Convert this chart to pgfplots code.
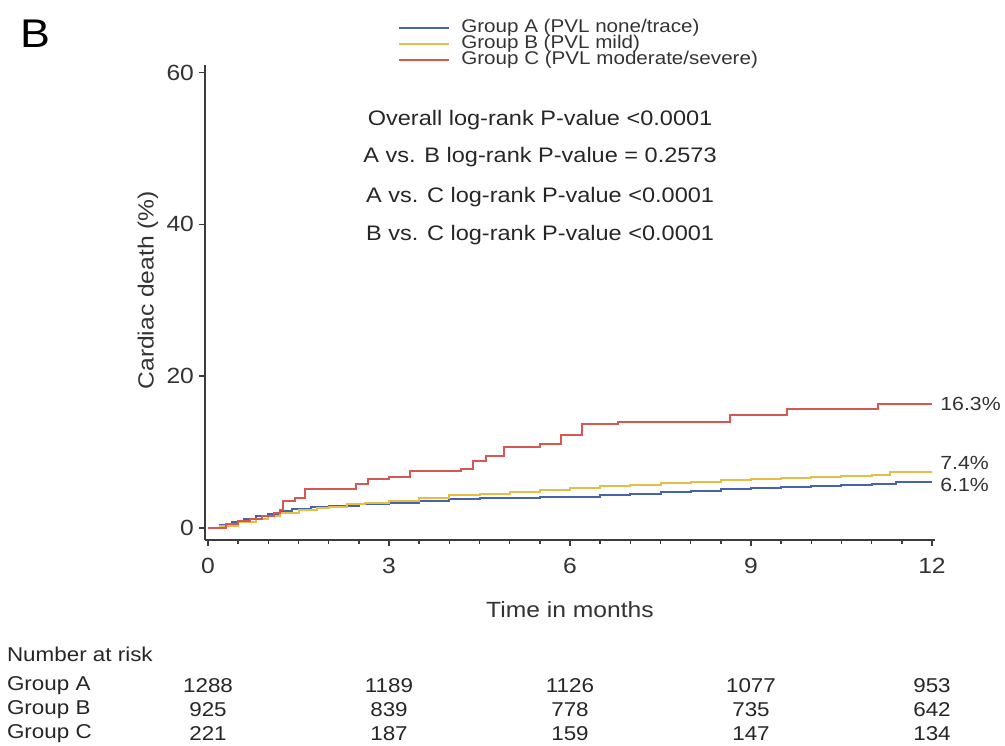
\documentclass[border=0pt]{standalone}
\usepackage{pgfplots}
\pgfplotsset{compat=1.18}
\usepackage{fontspec}
\setmainfont{Liberation Sans}[FakeStretch=1.12]

\definecolor{grpA}{RGB}{70,100,172}
\definecolor{grpB}{RGB}{230,190,70}
\definecolor{grpC}{RGB}{214,88,82}
\definecolor{axgray}{RGB}{60,60,60}

\begin{document}
\begin{tikzpicture}
\useasboundingbox (-102.5pt,-102.5pt) rectangle (400pt,270pt);
\begin{axis}[
  scale only axis, width=365pt, height=237.5pt,
  xmin=-0.05, xmax=12.05, ymin=-1.6, ymax=61,
  axis lines=left, axis line style={-, axgray, line width=1.1pt},
  xtick={0,3,6,9,12}, minor x tick num=5,
  ytick={0,20,40,60},
  tick align=outside, tick style={axgray, line width=0.7pt},
  major tick length=3pt, minor tick length=2pt,
  clip=false,
  /pgf/number format/assume math mode=true,
  tick label style={font=\fontsize{11}{13}\selectfont, text=black!80},
  xticklabel style={yshift=-2.5pt},
  yticklabel style={xshift=1pt},
  xlabel={Time in months},
  ylabel={Cardiac death (\%)},
  label style={font=\fontsize{11}{13}\selectfont, text=black!80},
  xlabel style={at={(axis description cs:0.5,-0.147)}, anchor=center},
  ylabel style={at={(axis description cs:-0.078,0.526)}, anchor=center},
  legend style={draw=none, fill=none, at={(rel axis cs:0.256,1.105)}, anchor=north west,
    font=\fontsize{9.2}{9.2}\selectfont, text=black!80, row sep=0pt,
    nodes={inner sep=0pt, text height=6.6pt, text depth=1.4pt}},
  legend cell align=left,
  legend image code/.code={\draw[#1, line width=1pt] (0pt,0pt) -- (25pt,0pt); \path (30.5pt,0pt);},
]
% Group A (none/trace)
\addplot[const plot, grpA, line width=1pt] coordinates {
 (0,0) (0.2,0.4) (0.4,0.8) (0.6,1.2) (0.8,1.5) (1.0,1.8) (1.2,2.2) (1.4,2.5)
 (1.7,2.7) (2.0,2.9) (2.5,3.1) (3.0,3.3) (3.5,3.6) (4.0,3.8) (4.5,3.9) (5.0,4.0)
 (5.5,4.05) (6.0,4.1) (6.5,4.3) (7.0,4.5) (7.5,4.7) (8.0,4.9) (8.5,5.1) (9.0,5.3)
 (9.5,5.4) (10.0,5.5) (10.5,5.6) (11.0,5.8) (11.4,6.1) (12.0,6.1)};
\addlegendentry{Group A (PVL none/trace)}
% Group B (mild)
\addplot[const plot, grpB, line width=1pt] coordinates {
 (0,0) (0.2,0.3) (0.5,0.8) (0.8,1.2) (1.0,1.5) (1.2,1.9) (1.5,2.3) (1.8,2.6)
 (2.0,2.8) (2.3,3.1) (2.6,3.3) (3.0,3.6) (3.5,4.0) (4.0,4.3) (4.5,4.5) (5.0,4.7)
 (5.5,5.0) (6.0,5.2) (6.5,5.5) (7.0,5.7) (7.5,5.9) (8.0,6.1) (8.5,6.3) (9.0,6.5)
 (9.5,6.6) (10.0,6.7) (10.5,6.8) (11.0,7.0) (11.3,7.4) (12.0,7.4)};
\addlegendentry{Group B (PVL mild)}
% Group C (moderate/severe)
\addplot[const plot, grpC, line width=1pt] coordinates {
 (0,0) (0.3,0.5) (0.5,0.9) (0.7,1.2) (0.9,1.5) (1.1,2.0) (1.2,2.3) (1.25,3.5)
 (1.45,4.0) (1.6,5.1) (2.2,5.1) (2.45,5.8) (2.65,6.5) (3.0,6.7) (3.35,7.5)
 (4.2,7.7) (4.4,8.8) (4.6,9.5) (4.9,10.7) (5.5,11.1) (5.85,12.3) (6.2,13.7)
 (6.8,13.9) (8.65,14.9) (9.6,15.6) (11.1,16.3) (12.0,16.3)};
\addlegendentry{Group C (PVL moderate/severe)}

% p-values
\node[font=\fontsize{10.5}{12}\selectfont, text=black!85] at (rel axis cs:0.459,0.884) {Overall log-rank P-value <0.0001};
\node[font=\fontsize{10.5}{12}\selectfont, text=black!85] at (rel axis cs:0.459,0.806) {A vs. B log-rank P-value = 0.2573};
\node[font=\fontsize{10.5}{12}\selectfont, text=black!85] at (rel axis cs:0.459,0.722) {A vs. C log-rank P-value <0.0001};
\node[font=\fontsize{10.5}{12}\selectfont, text=black!85] at (rel axis cs:0.459,0.642) {B vs. C log-rank P-value <0.0001};

% end labels
\node[anchor=west, inner sep=1pt, font=\fontsize{9.5}{11}\selectfont, text=black!80] at ([xshift=3pt]axis cs:12,16.3) {16.3\%};
\node[anchor=west, inner sep=1pt, font=\fontsize{9.5}{11}\selectfont, text=black!80] at ([xshift=3pt]axis cs:12,8.5) {7.4\%};
\node[anchor=west, inner sep=1pt, font=\fontsize{9.5}{11}\selectfont, text=black!80] at ([xshift=3pt]axis cs:12,5.7) {6.1\%};

% numbers at risk
\node[font=\fontsize{10}{12}\selectfont, text=black!85] at ([yshift=-73pt]axis cs:0,-1.6) {1288};
\node[font=\fontsize{10}{12}\selectfont, text=black!85] at ([yshift=-85pt]axis cs:0,-1.6) {925};
\node[font=\fontsize{10}{12}\selectfont, text=black!85] at ([yshift=-97pt]axis cs:0,-1.6) {221};
\node[font=\fontsize{10}{12}\selectfont, text=black!85] at ([yshift=-73pt]axis cs:3,-1.6) {1189};
\node[font=\fontsize{10}{12}\selectfont, text=black!85] at ([yshift=-85pt]axis cs:3,-1.6) {839};
\node[font=\fontsize{10}{12}\selectfont, text=black!85] at ([yshift=-97pt]axis cs:3,-1.6) {187};
\node[font=\fontsize{10}{12}\selectfont, text=black!85] at ([yshift=-73pt]axis cs:6,-1.6) {1126};
\node[font=\fontsize{10}{12}\selectfont, text=black!85] at ([yshift=-85pt]axis cs:6,-1.6) {778};
\node[font=\fontsize{10}{12}\selectfont, text=black!85] at ([yshift=-97pt]axis cs:6,-1.6) {159};
\node[font=\fontsize{10}{12}\selectfont, text=black!85] at ([yshift=-73pt]axis cs:9,-1.6) {1077};
\node[font=\fontsize{10}{12}\selectfont, text=black!85] at ([yshift=-85pt]axis cs:9,-1.6) {735};
\node[font=\fontsize{10}{12}\selectfont, text=black!85] at ([yshift=-97pt]axis cs:9,-1.6) {147};
\node[font=\fontsize{10}{12}\selectfont, text=black!85] at ([yshift=-73pt]axis cs:12,-1.6) {953};
\node[font=\fontsize{10}{12}\selectfont, text=black!85] at ([yshift=-85pt]axis cs:12,-1.6) {642};
\node[font=\fontsize{10}{12}\selectfont, text=black!85] at ([yshift=-97pt]axis cs:12,-1.6) {134};
\end{axis}
\node[anchor=west, font=\fontsize{10}{12}\selectfont, text=black!85] at (-102.5pt,-57pt) {Number at risk};
\node[anchor=west, font=\fontsize{10}{12}\selectfont, text=black!85] at (-102.5pt,-73pt) {Group A};
\node[anchor=west, font=\fontsize{10}{12}\selectfont, text=black!85] at (-102.5pt,-85pt) {Group B};
\node[anchor=west, font=\fontsize{10}{12}\selectfont, text=black!85] at (-102.5pt,-97pt) {Group C};
\node[font=\fontsize{20}{24}\selectfont] at (-85pt,253pt) {B};
\end{tikzpicture}
\end{document}
